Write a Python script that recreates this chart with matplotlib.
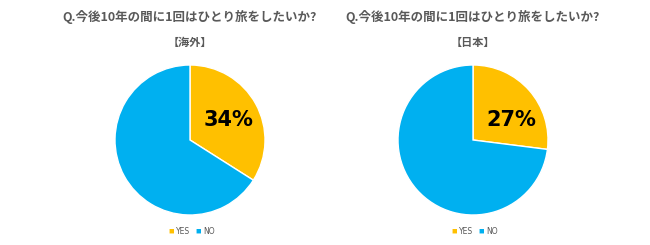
import matplotlib.pyplot as plt

plt.rcParams['font.family'] = ['Noto Sans CJK JP', 'DejaVu Sans']

title = "Q.今後10年の間に1回はひとり旅をしたいか?"
regions = ["【海外】", "【日本】"]
labels = ["YES", "NO"]
yes_share = [34, 27]
colors = ["#FFC000", "#00B0F0"]
text_gray = "#595959"

fig = plt.figure(figsize=(6.5, 2.45), dpi=100)

centers = [190, 473]
for cx, region, yes in zip(centers, regions, yes_share):
    r = 75
    ax = fig.add_axes([(cx - r) / 650, (245 - 140 - r) / 245, 2 * r / 650, 2 * r / 245])
    wedges, texts = ax.pie(
        [yes, 100 - yes], colors=colors, startangle=90, counterclock=False,
        wedgeprops=dict(edgecolor="white", linewidth=1))
    ax.set_xlim(-1, 1)
    ax.set_ylim(-1, 1)
    ax.set_aspect("equal")
    # YES percentage, same spot in both pies
    ax.text(0.51, 0.27, f"{yes}%", ha="center", va="center",
            fontsize=15, fontweight="bold", color="black", family="DejaVu Sans")
    fig.text(cx / 650, 1 - 17 / 245, title, ha="center", va="center",
             fontsize=9, fontweight="bold", color=text_gray)
    fig.text(cx / 650, 1 - 42 / 245, region, ha="center", va="center",
             fontsize=8, fontweight="bold", color=text_gray)
    # legend
    lx = cx - 19
    for i, (lab, col) in enumerate(zip(labels, colors)):
        x0 = lx + i * 27
        fig.text(x0 / 650, 1 - 231 / 245, "■", ha="center", va="center",
                 fontsize=4, color=col)
        fig.text((x0 + 5) / 650, 1 - 231 / 245, lab, ha="left", va="center",
                 fontsize=5.5, color=text_gray, family="DejaVu Sans")

fig.savefig("out.png", dpi=100, facecolor="white")
